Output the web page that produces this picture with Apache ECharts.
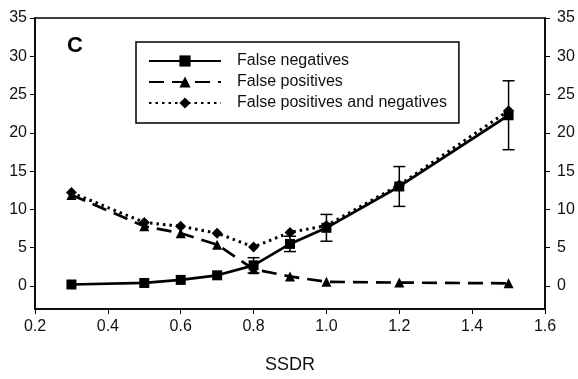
<!DOCTYPE html>
<html><head><meta charset="utf-8">
<script src="https://cdn.jsdelivr.net/npm/echarts@6/dist/echarts.min.js"></script>
<style>html,body{margin:0;padding:0;background:#fff}#c{width:578px;height:379px}</style>
</head><body><div id="c"></div>
<script>
const ssdr = [0.3, 0.5, 0.6, 0.7, 0.8, 0.9, 1.0, 1.2, 1.5];
const falseNegatives = [0.2, 0.4, 0.8, 1.4, 2.7, 5.5, 7.6, 13.0, 22.3];
const falseNegErr = [0, 0, 0, 0, 1.0, 1.0, 1.75, 2.6, 4.5];
const falsePositives = [11.9, 7.8, 6.9, 5.4, 2.2, 1.25, 0.55, 0.45, 0.35];
const falseBoth = [12.2, 8.3, 7.8, 6.9, 5.1, 7.0, 7.9, 13.2, 22.9];
const yTicks = [0, 5, 10, 15, 20, 25, 30, 35];
const names = ['False negatives', 'False positives', 'False positives and negatives'];

const font = 'Liberation Sans, Arial, sans-serif';
const pair = (xs, ys) => xs.map((x, i) => [x, ys[i]]);
const errData = ssdr.map((x, i) => [x, falseNegatives[i] - falseNegErr[i], falseNegatives[i] + falseNegErr[i]]).filter((d, i) => falseNegErr[i] > 0);

function yAxis(pos, margin) {
  return {
    type: 'value', position: pos, min: -3, max: 35,
    axisLine: { show: true, lineStyle: { color: '#000', width: 1.5 } },
    axisTick: { show: true, length: 5, customValues: yTicks, lineStyle: { color: '#000', width: 1 } },
    axisLabel: { customValues: yTicks, color: '#111', fontSize: 16, fontFamily: font, margin: margin },
    splitLine: { show: false }
  };
}

const chart = echarts.init(document.getElementById('c'));
chart.setOption({
  animation: false,
  backgroundColor: '#fff',
  grid: { left: 35, right: 33, top: 18, bottom: 70, show: true, borderColor: '#000', borderWidth: 1.5, backgroundColor: 'transparent' },
  xAxis: {
    type: 'value', min: 0.2, max: 1.6, interval: 0.2,
    name: 'SSDR', nameLocation: 'middle', nameGap: 47,
    nameTextStyle: { color: '#111', fontSize: 18, fontFamily: font },
    axisLine: { show: true, onZero: false, lineStyle: { color: '#000', width: 1.5 } },
    axisTick: { show: true, length: 5, lineStyle: { color: '#000', width: 1 } },
    axisLabel: { color: '#111', fontSize: 16, fontFamily: font, margin: 10, formatter: v => v.toFixed(1) },
    splitLine: { show: false }
  },
  yAxis: [yAxis('left', 8), yAxis('right', 12)],
  legend: {
    orient: 'vertical', left: 136, top: 42,
    padding: [11, 12, 12, 12], itemGap: 5, itemWidth: 72, itemHeight: 14,
    borderColor: '#000', borderWidth: 1.5, backgroundColor: '#fff',
    textStyle: { color: '#111', fontSize: 16, fontFamily: font, padding: [0, 0, 0, 11] },
    data: names
  },
  graphic: [{ type: 'text', left: 67, top: 35, style: { text: 'C', font: 'bold 22px ' + font, fill: '#000' } }],
  series: [
    { name: names[0], type: 'line', data: pair(ssdr, falseNegatives), symbol: 'rect', symbolSize: 10,
      lineStyle: { color: '#000', width: 2.7, type: 'solid' }, itemStyle: { color: '#000' }, z: 3 },
    { name: names[1], type: 'line', data: pair(ssdr, falsePositives), symbol: 'triangle', symbolSize: 10,
      lineStyle: { color: '#000', width: 2.7, type: [15, 8] }, itemStyle: { color: '#000' }, z: 2 },
    { name: names[2], type: 'line', data: pair(ssdr, falseBoth), symbol: 'diamond', symbolSize: 11,
      lineStyle: { color: '#000', width: 3, type: [2.5, 4] }, itemStyle: { color: '#000' }, z: 2 },
    { type: 'custom', data: errData, z: 4,
      renderItem: function (params, api) {
        const x = api.value(0);
        const lo = api.coord([x, api.value(1)]);
        const hi = api.coord([x, api.value(2)]);
        const w = 6;
        const st = { stroke: '#000', lineWidth: 1.5 };
        return { type: 'group', children: [
          { type: 'line', shape: { x1: lo[0], y1: lo[1], x2: hi[0], y2: hi[1] }, style: st },
          { type: 'line', shape: { x1: lo[0] - w, y1: lo[1], x2: lo[0] + w, y2: lo[1] }, style: st },
          { type: 'line', shape: { x1: hi[0] - w, y1: hi[1], x2: hi[0] + w, y2: hi[1] }, style: st }
        ] };
      } }
  ]
});
</script></body></html>
